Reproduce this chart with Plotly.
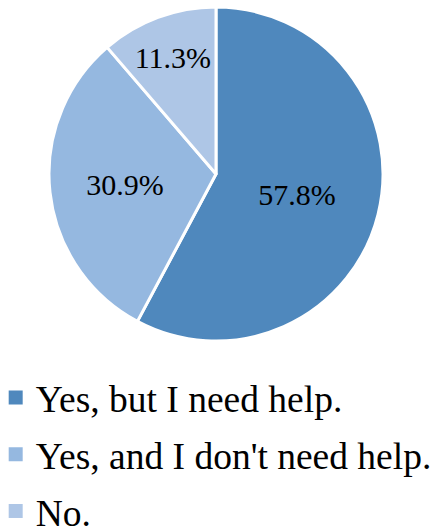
import plotly.graph_objects as go

# Survey answers and their shares (percent)
labels = ["Yes, but I need help.", "Yes, and I don't need help.", "No."]
values = [57.8, 30.9, 11.3]
colors = ["#4F88BD", "#95B8E0", "#AEC6E6"]

serif = "Liberation Serif"

# Pie box, slightly larger than the visible disc
cx, cy, half = 216, 174, 167
W, H = 431, 529

fig = go.Figure()
fig.add_trace(
    go.Pie(
        labels=labels,
        values=values,
        sort=False,
        direction="clockwise",
        rotation=0,
        marker=dict(colors=colors, line=dict(color="white", width=3)),
        texttemplate="%{value:.1f}%",
        textposition="inside",
        insidetextorientation="horizontal",
        textfont=dict(family=serif, size=30, color="black"),
        domain=dict(x=[(cx - half) / W, (cx + half) / W],
                    y=[(H - cy - half) / H, (H - cy + half) / H]),
        hoverinfo="label+percent",
        showlegend=False,
    )
)

# Legend entries: one square swatch per answer, spaced as separate groups
for lab, col in zip(labels, colors):
    fig.add_trace(
        go.Scatter(
            x=[None], y=[None], mode="markers", name=lab, legendgroup=lab,
            marker=dict(symbol="square", size=14, color=col),
            hoverinfo="skip",
        )
    )

fig.update_layout(
    width=W,
    height=H,
    margin=dict(l=0, r=0, t=0, b=0, autoexpand=False),
    paper_bgcolor="white",
    plot_bgcolor="white",
    font=dict(family=serif, color="black"),
    xaxis=dict(visible=False),
    yaxis=dict(visible=False),
    showlegend=True,
    legend=dict(
        orientation="v",
        traceorder="grouped",
        tracegroupgap=5,
        x=-0.01,
        xanchor="left",
        y=0.307,
        yanchor="top",
        font=dict(family=serif, size=37.5, color="black"),
        bgcolor="rgba(0,0,0,0)",
        itemclick=False,
        itemdoubleclick=False,
    ),
)

fig.write_html("out.html")
